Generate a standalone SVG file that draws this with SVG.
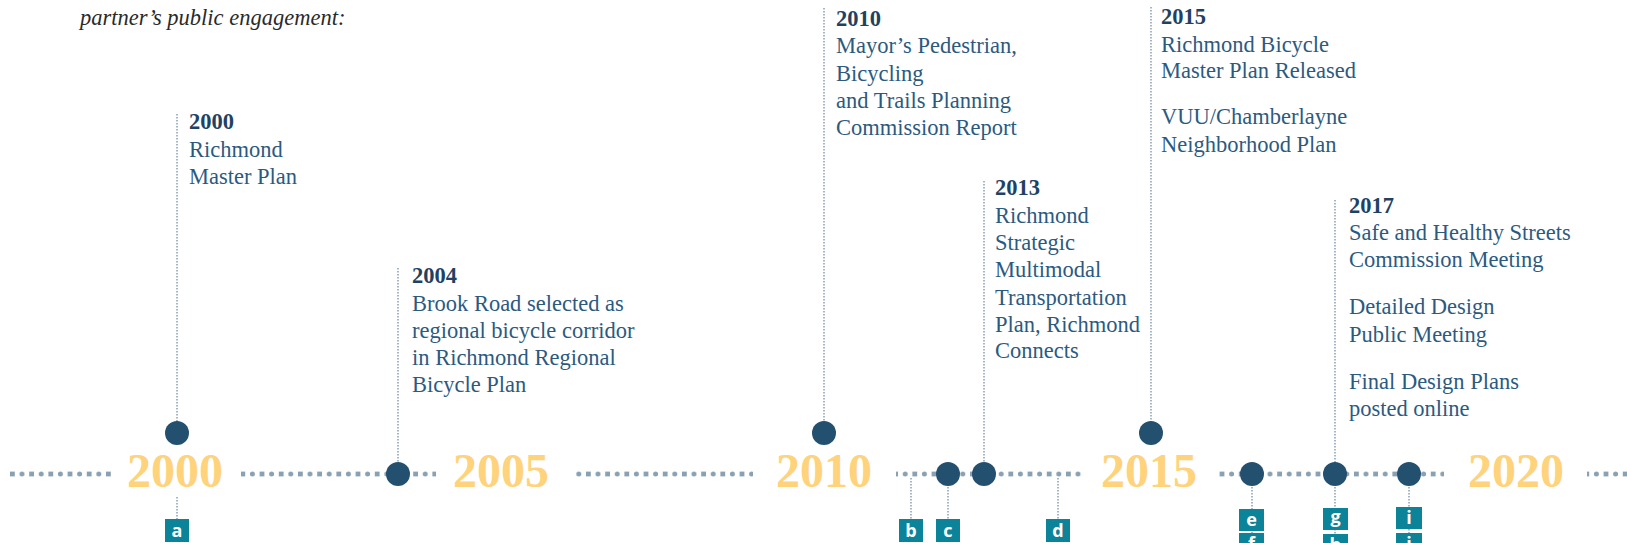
<svg xmlns="http://www.w3.org/2000/svg" width="1627" height="543" viewBox="0 0 1627 543">
  <style>
    .intro { font-family: "Liberation Serif", "Times New Roman", serif; font-style: italic; font-size: 22.5px; fill: #2a2a2a; }
    .ev { font-family: "Liberation Serif", "Times New Roman", serif; font-size: 22.5px; fill: #2c5a7f; }
    .ev .yr { font-weight: bold; fill: #1f4263; }
    .big { font-family: "Liberation Serif", "Times New Roman", serif; font-weight: bold; font-size: 48px; fill: #ffd27c; }
    .vline { stroke: #8fa5b8; stroke-width: 1.6; stroke-dasharray: 1.6 1.4; fill: none; }
    .dot { fill: #24506f; }
    .tag rect { fill: #0b8399; }
    .tag text { font-family: "Open Sans", "Liberation Sans", sans-serif; font-weight: bold; font-size: 18px; fill: #ffffff; text-anchor: middle; }
  </style>
  <defs>
    <!-- alternating square / round dots of the timeline rail -->
    <pattern id="rail" patternUnits="userSpaceOnUse" x="10" y="471" width="19.2" height="6">
      <rect x="0" y="0.6" width="4.8" height="4.8" fill="#8aa1b3"/>
      <circle cx="12" cy="3" r="2.5" fill="#8aa1b3"/>
    </pattern>
  </defs>

  <text class="intro" x="80" y="25">partner’s public engagement:</text>

  <!-- timeline rail -->
  <g id="rail-segments">
    <rect x="10" y="471" width="103" height="6" fill="url(#rail)"/>
    <rect x="241" y="471" width="195" height="6" fill="url(#rail)"/>
    <rect x="575" y="471" width="178" height="6" fill="url(#rail)"/>
    <rect x="896" y="471" width="188" height="6" fill="url(#rail)"/>
    <rect x="1216" y="471" width="228" height="6" fill="url(#rail)"/>
    <rect x="1587" y="471" width="40" height="6" fill="url(#rail)"/>
  </g>

  <!-- year markers on the rail -->
  <g id="years">
    <text class="big" x="127" y="487">2000</text>
    <text class="big" x="453" y="487">2005</text>
    <text class="big" x="776" y="487">2010</text>
    <text class="big" x="1101" y="487">2015</text>
    <text class="big" x="1468" y="487">2020</text>
  </g>

  <!-- dotted leaders -->
  <g id="connectors">
    <line class="vline" x1="177" y1="114" x2="177" y2="424"/>
    <line class="vline" x1="398" y1="268" x2="398" y2="466"/>
    <line class="vline" x1="824" y1="8" x2="824" y2="424"/>
    <line class="vline" x1="984" y1="181" x2="984" y2="466"/>
    <line class="vline" x1="1151" y1="7" x2="1151" y2="424"/>
    <line class="vline" x1="1335" y1="200" x2="1335" y2="466"/>
    <line class="vline" x1="177" y1="497" x2="177" y2="520"/>
    <line class="vline" x1="911" y1="478" x2="911" y2="520"/>
    <line class="vline" x1="948" y1="484" x2="948" y2="520"/>
    <line class="vline" x1="1058" y1="478" x2="1058" y2="520"/>
    <line class="vline" x1="1252" y1="484" x2="1252" y2="543"/>
    <line class="vline" x1="1335" y1="484" x2="1335" y2="543"/>
    <line class="vline" x1="1409" y1="484" x2="1409" y2="543"/>
  </g>

  <!-- event dots -->
  <g id="dots">
    <circle class="dot" cx="177" cy="433" r="12"/>
    <circle class="dot" cx="824" cy="433" r="12"/>
    <circle class="dot" cx="1151" cy="433" r="12"/>
    <circle class="dot" cx="398" cy="474" r="12"/>
    <circle class="dot" cx="948" cy="474" r="12"/>
    <circle class="dot" cx="984" cy="474" r="12"/>
    <circle class="dot" cx="1252" cy="474" r="12"/>
    <circle class="dot" cx="1335" cy="474" r="12"/>
    <circle class="dot" cx="1409" cy="474" r="12"/>
  </g>

  <!-- event descriptions -->
  <g id="event-2000">
    <text class="ev"><tspan class="yr" x="189" y="129">2000</tspan><tspan x="189" y="157">Richmond</tspan><tspan x="189" y="184">Master Plan</tspan></text>
  </g>
  <g id="event-2004">
    <text class="ev"><tspan class="yr" x="412" y="283">2004</tspan><tspan x="412" y="311">Brook Road selected as</tspan><tspan x="412" y="338">regional bicycle corridor</tspan><tspan x="412" y="365">in Richmond Regional</tspan><tspan x="412" y="392">Bicycle Plan</tspan></text>
  </g>
  <g id="event-2010">
    <text class="ev"><tspan class="yr" x="836" y="26">2010</tspan><tspan x="836" y="53">Mayor’s Pedestrian,</tspan><tspan x="836" y="81">Bicycling</tspan><tspan x="836" y="108">and Trails Planning</tspan><tspan x="836" y="135">Commission Report</tspan></text>
  </g>
  <g id="event-2013">
    <text class="ev"><tspan class="yr" x="995" y="195">2013</tspan><tspan x="995" y="223">Richmond</tspan><tspan x="995" y="250">Strategic</tspan><tspan x="995" y="277">Multimodal</tspan><tspan x="995" y="305">Transportation</tspan><tspan x="995" y="332">Plan, Richmond</tspan><tspan x="995" y="358">Connects</tspan></text>
  </g>
  <g id="event-2015">
    <text class="ev"><tspan class="yr" x="1161" y="24">2015</tspan><tspan x="1161" y="52">Richmond Bicycle</tspan><tspan x="1161" y="78">Master Plan Released</tspan><tspan x="1161" y="124">VUU/Chamberlayne</tspan><tspan x="1161" y="152">Neighborhood Plan</tspan></text>
  </g>
  <g id="event-2017">
    <text class="ev"><tspan class="yr" x="1349" y="213">2017</tspan><tspan x="1349" y="240">Safe and Healthy Streets</tspan><tspan x="1349" y="267">Commission Meeting</tspan><tspan x="1349" y="314">Detailed Design</tspan><tspan x="1349" y="342">Public Meeting</tspan><tspan x="1349" y="389">Final Design Plans</tspan><tspan x="1349" y="416">posted online</tspan></text>
  </g>

  <!-- lettered reference tags -->
  <g id="tag-a" class="tag"><rect x="165" y="519" width="24" height="23"/><text x="177" y="537">a</text></g>
  <g id="tag-b" class="tag"><rect x="899" y="519" width="24" height="23"/><text x="911" y="537">b</text></g>
  <g id="tag-c" class="tag"><rect x="936" y="519" width="24" height="23"/><text x="948" y="537">c</text></g>
  <g id="tag-d" class="tag"><rect x="1046" y="519" width="24" height="23"/><text x="1058" y="537">d</text></g>
  <g id="tag-e" class="tag"><rect x="1239" y="509" width="25" height="22"/><text x="1251.5" y="526">e</text></g>
  <g id="tag-f" class="tag"><rect x="1239" y="533" width="25" height="22"/><text x="1251.5" y="550">f</text></g>
  <g id="tag-g" class="tag"><rect x="1323" y="508" width="25" height="22"/><text x="1335.5" y="523">g</text></g>
  <g id="tag-h" class="tag"><rect x="1323" y="534" width="25" height="22"/><text x="1335.5" y="551">h</text></g>
  <g id="tag-i" class="tag"><rect x="1396" y="507" width="26" height="22"/><text x="1409" y="524">i</text></g>
  <g id="tag-j" class="tag"><rect x="1396" y="533" width="26" height="22"/><text x="1409" y="550">j</text></g>
</svg>
